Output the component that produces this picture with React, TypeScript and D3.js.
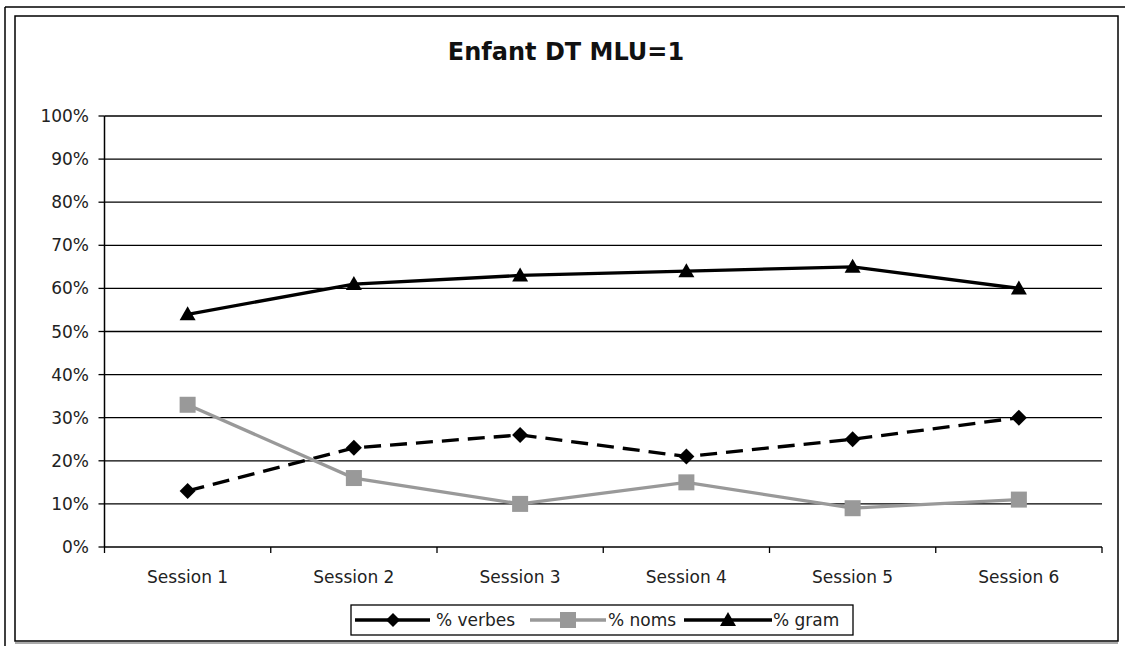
import React from "react";
import * as d3 from "d3";

const categories = ["Session 1", "Session 2", "Session 3", "Session 4", "Session 5", "Session 6"];
const verbes = [13, 23, 26, 21, 25, 30];
const noms = [33, 16, 10, 15, 9, 11];
const gram = [54, 61, 63, 64, 65, 60];
const yTicks = [0, 10, 20, 30, 40, 50, 60, 70, 80, 90, 100];
const title = "Enfant DT MLU=1";

const W = 1125, H = 646;
const left = 104.5, right = 1102, top = 116, bottom = 547;
const font = "'DejaVu Sans', Verdana, sans-serif";

function diamond(x: number, y: number, r: number) {
  return `M${x},${y - r}L${x + r},${y}L${x},${y + r}L${x - r},${y}Z`;
}
function triangle(x: number, y: number, r: number) {
  return `M${x},${y - r}L${x + r},${y + r * 0.75}L${x - r},${y + r * 0.75}Z`;
}

export default function App() {
  const x = d3.scaleBand<string>().domain(categories).range([left, right]);
  const y = d3.scaleLinear().domain([0, 100]).range([bottom, top]);
  const cx = (c: string) => (x(c) as number) + x.bandwidth() / 2;
  const line = d3.line<number>().x((_, i) => cx(categories[i])).y((d) => y(d));

  return (
    <svg width={W} height={H} style={{ position: "absolute", left: 0, top: 0, background: "#fff" }}>
      <rect x={0} y={0} width={W} height={H} fill="#fff" />
      {/* outer frame */}
      <line x1={5} y1={7} x2={W} y2={7} stroke="#000" strokeWidth={1.5} />
      <line x1={5} y1={7} x2={5} y2={H} stroke="#000" strokeWidth={1.5} />
      <rect x={15} y={16} width={1103} height={625} fill="none" stroke="#000" strokeWidth={1.5} />
      <line x1={15} y1={643} x2={1118} y2={643} stroke="#555" strokeWidth={1} />

      <text x={566} y={60} textAnchor="middle" fontFamily={font} fontWeight="bold" fontSize={24} fill="#111">
        {title}
      </text>

      {/* grid */}
      {yTicks.map((t) => (
        <g key={t}>
          {t > 0 && <line x1={left} x2={right} y1={y(t)} y2={y(t)} stroke="#000" strokeWidth={1.3} />}
          <line x1={left - 6} x2={left} y1={y(t)} y2={y(t)} stroke="#000" strokeWidth={1.3} />
          <text x={89} y={y(t) + 6} textAnchor="end" fontFamily={font} fontSize={17} fill="#222">
            {t}%
          </text>
        </g>
      ))}
      {/* axes */}
      <line x1={left} x2={left} y1={top} y2={bottom} stroke="#000" strokeWidth={1.5} />
      <line x1={left} x2={right} y1={bottom} y2={bottom} stroke="#000" strokeWidth={1.5} />
      {categories.map((c, i) => (
        <line key={"t" + i} x1={(x(c) as number) + x.bandwidth()} x2={(x(c) as number) + x.bandwidth()} y1={bottom} y2={bottom + 6} stroke="#000" strokeWidth={1.3} />
      ))}
      <line x1={left} x2={left} y1={bottom} y2={bottom + 6} stroke="#000" strokeWidth={1.3} />
      {categories.map((c) => (
        <text key={c} x={cx(c)} y={583} textAnchor="middle" fontFamily={font} fontSize={17} fill="#222">
          {c}
        </text>
      ))}

      {/* series */}
      <path d={line(gram) as string} fill="none" stroke="#000" strokeWidth={3.3} />
      <path d={line(verbes) as string} fill="none" stroke="#000" strokeWidth={3.3} strokeDasharray="17,9" />
      <path d={line(noms) as string} fill="none" stroke="#999" strokeWidth={3.3} />
      {gram.map((v, i) => (
        <path key={"g" + i} d={triangle(cx(categories[i]), y(v), 8)} fill="#000" />
      ))}
      {verbes.map((v, i) => (
        <path key={"v" + i} d={diamond(cx(categories[i]), y(v), 8)} fill="#000" />
      ))}
      {noms.map((v, i) => (
        <rect key={"n" + i} x={cx(categories[i]) - 8} y={y(v) - 8} width={16} height={16} fill="#999" />
      ))}

      {/* legend */}
      <rect x={351} y={605} width={502} height={30} fill="#fff" stroke="#000" strokeWidth={1.3} />
      <line x1={355} x2={430} y1={620} y2={620} stroke="#000" strokeWidth={3.3} />
      <path d={diamond(393, 620, 7)} fill="#000" />
      <text x={436} y={626} fontFamily={font} fontSize={17} fill="#222">% verbes</text>
      <line x1={530} x2={606} y1={620} y2={620} stroke="#999" strokeWidth={3.3} />
      <rect x={560} y={612} width={16} height={16} fill="#999" />
      <text x={608} y={626} fontFamily={font} fontSize={17} fill="#222">% noms</text>
      <line x1={684} x2={772} y1={620} y2={620} stroke="#000" strokeWidth={3.3} />
      <path d={triangle(728, 620, 8)} fill="#000" />
      <text x={773} y={626} fontFamily={font} fontSize={17} fill="#222">% gram</text>
    </svg>
  );
}
